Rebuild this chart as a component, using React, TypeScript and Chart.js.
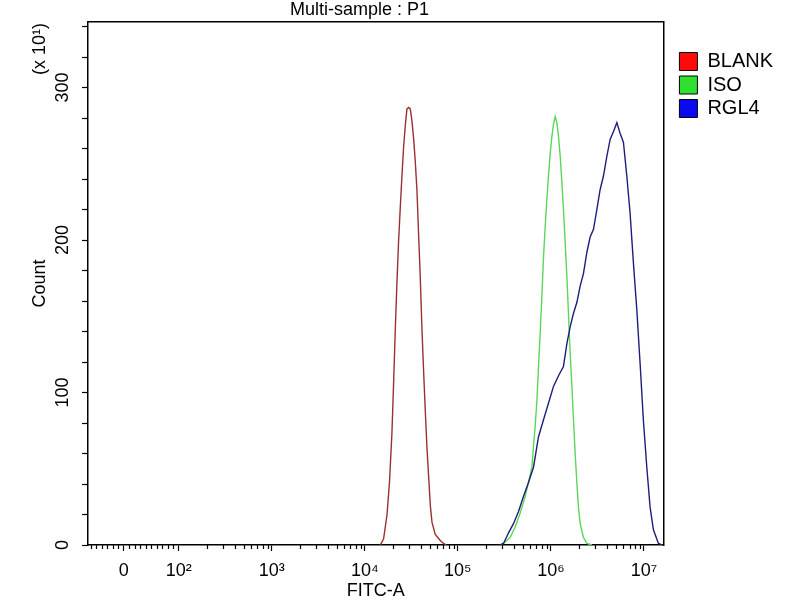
import React, { useEffect, useRef } from "react";
import { Chart, registerables } from "chart.js";

Chart.register(...registerables);

// ---------- text ----------
const TITLE = "Multi-sample : P1";
const X_TITLE = "FITC-A";
const Y_TITLE = "Count";
const Y_MULTIPLIER = "(x 10\u00B9)";
const SERIES_NAMES = ["BLANK", "ISO", "RGL4"];

// ---------- data (x = log10 FITC-A, y = count in units of 10) ----------
const BLANK_LOGX = [4.167, 4.202, 4.239, 4.266, 4.292, 4.309, 4.328, 4.346, 4.363, 4.381, 4.4, 4.417, 4.435, 4.453, 4.471, 4.489, 4.507, 4.524, 4.542, 4.561, 4.578, 4.596, 4.614, 4.632, 4.65, 4.668, 4.685, 4.704, 4.722, 4.757, 4.811, 4.846, 4.875];
const BLANK_COUNT = [0, 4, 20, 42, 74, 105, 142, 173, 199, 221, 243, 261, 275, 286, 287, 286, 278, 267, 252, 232, 204, 176, 142, 114, 88, 64, 46, 26, 15, 7, 3, 1, 0];

const ISO_LOGX = [5.455, 5.509, 5.563, 5.617, 5.67, 5.724, 5.759, 5.796, 5.813, 5.831, 5.85, 5.867, 5.885, 5.903, 5.921, 5.939, 5.957, 5.974, 5.993, 6.011, 6.028, 6.046, 6.064, 6.082, 6.1, 6.118, 6.135, 6.154, 6.172, 6.189, 6.207, 6.226, 6.243, 6.261, 6.279, 6.296, 6.315, 6.35, 6.387, 6.44];
const ISO_COUNT = [0, 2, 5, 12, 21, 32, 41, 51, 65, 78, 95, 117, 139, 163, 189, 209, 227, 242, 257, 268, 276, 281, 277, 268, 255, 238, 220, 198, 176, 152, 126, 104, 82, 60, 41, 25, 14, 5, 1, 0];

const RGL4_LOGX = [5.455, 5.491, 5.545, 5.598, 5.652, 5.706, 5.759, 5.813, 5.867, 5.92, 5.974, 6.028, 6.082, 6.135, 6.172, 6.207, 6.243, 6.279, 6.315, 6.35, 6.387, 6.422, 6.458, 6.494, 6.529, 6.565, 6.602, 6.637, 6.672, 6.709, 6.744, 6.78, 6.816, 6.851, 6.887, 6.924, 6.959, 6.994, 7.031, 7.066, 7.102, 7.156, 7.192];
const RGL4_COUNT = [0, 1, 8, 14, 22, 32, 41, 51, 71, 82, 93, 104, 111, 117, 132, 143, 152, 159, 170, 178, 192, 202, 207, 220, 233, 242, 255, 266, 271, 277, 270, 264, 242, 218, 185, 154, 119, 82, 51, 25, 10, 1, 0];

// ---------- axes ----------
const X_RANGE = [-65, 1.62e7]; // FITC-A values at the axis ends
const X_MAJOR_TICKS = [0, 1e2, 1e3, 1e4, 1e5, 1e6, 1e7];
const X_MAJOR_LABELS = ["0", "10\u00B2", "10\u00B3", "10\u2074", "10\u2075", "10\u2076", "10\u2077"];
const X_MINOR_LINEAR = [-60, -50, -40, -30, -20, -10, 10, 20, 30, 40, 50, 60, 70, 80, 90];
const X_MINOR_MULTIPLIERS = [2, 3, 4, 5, 6, 7, 8, 9];
const X_MINOR_DECADES = [1e2, 1e3, 1e4, 1e5, 1e6];
const Y_MAX = 343;
const Y_TICKS = [0, 20, 40, 60, 80, 100, 120, 140, 160, 180, 200, 220, 240, 260, 280, 300, 320, 340];
const Y_LABELED = [0, 100, 200, 300];

// ---------- styles ----------
const LINE_COLORS = ["#9c2f2f", "#5bd65b", "#1e1e7a"];
const LEGEND_FILLS = ["#ff0a0a", "#2fe02f", "#0a0af0"];
const FONT = '"Liberation Sans", Arial, sans-serif';
const ZERO_POS = 1.409; // position of 0 in decade units (biexponential display)

function toAxis(v: number): number {
  if (v <= 100) return ZERO_POS + (v / 100) * (2 - ZERO_POS);
  return Math.log10(v);
}

function series(xs: number[], ys: number[]) {
  return xs.map((x, i) => ({ x, y: ys[i] }));
}

const decorPlugin = {
  id: "decor",
  afterDraw(chart: any) {
    const ctx = chart.ctx;
    const xs = chart.scales.x;
    const base = xs.top;
    ctx.save();
    ctx.strokeStyle = "#000";
    ctx.lineWidth = 1.2;
    const minors: number[] = [...X_MINOR_LINEAR];
    X_MINOR_DECADES.forEach((d) => X_MINOR_MULTIPLIERS.forEach((m) => minors.push(d * m)));
    ctx.beginPath();
    minors.forEach((v) => {
      const px = Math.round(xs.getPixelForValue(toAxis(v))) + 0.5;
      ctx.moveTo(px, base);
      ctx.lineTo(px, base + 4);
    });
    ctx.stroke();

    ctx.fillStyle = "#000";
    ctx.font = `18px ${FONT}`;
    ctx.textAlign = "left";
    ctx.textBaseline = "alphabetic";
    ctx.fillText(TITLE, 290, 15);

    ctx.translate(40, 49);
    ctx.rotate(-Math.PI / 2);
    ctx.textAlign = "center";
    ctx.textBaseline = "middle";
    ctx.fillText(Y_MULTIPLIER, 0, 0);
    ctx.restore();
  },
};

export default function App() {
  const ref = useRef<HTMLCanvasElement | null>(null);

  useEffect(() => {
    if (!ref.current) return;
    Chart.defaults.font.family = FONT;
    Chart.defaults.color = "#000";
    const names = SERIES_NAMES;
    const chart = new Chart(ref.current, {
      type: "line",
      data: {
        datasets: [
          { label: names[0], data: series(BLANK_LOGX, BLANK_COUNT), borderColor: LINE_COLORS[0], order: 3 },
          { label: names[1], data: series(ISO_LOGX, ISO_COUNT), borderColor: LINE_COLORS[1], order: 2 },
          { label: names[2], data: series(RGL4_LOGX, RGL4_COUNT), borderColor: LINE_COLORS[2], order: 1 },
        ].map((d) => ({
          ...d,
          xAxisID: "x",
          yAxisID: "y",
          borderWidth: 1.4,
          pointRadius: 0,
          fill: false,
          tension: 0,
          backgroundColor: d.borderColor,
        })),
      },
      options: {
        animation: false,
        responsive: false,
        devicePixelRatio: 1,
        layout: { padding: { left: 0, top: 22, right: 17, bottom: 0 } },
        plugins: {
          tooltip: { enabled: false },
          title: { display: false },
          legend: {
            position: "right",
            align: "start",
            title: { display: true, text: " ", font: { size: 10, lineHeight: 1 }, padding: { top: 0, bottom: 16 } },
            labels: {
              boxWidth: 18,
              boxHeight: 18,
              padding: 3.5,
              color: "#000",
              font: { size: 20 },
              generateLabels: (c: any) =>
                c.data.datasets.map((ds: any, i: number) => ({
                  text: ds.label,
                  fillStyle: LEGEND_FILLS[i],
                  strokeStyle: "#000",
                  lineWidth: 1,
                  hidden: false,
                  datasetIndex: i,
                })),
            },
          },
        },
        scales: {
          x: {
            type: "linear",
            position: "bottom",
            min: toAxis(X_RANGE[0]),
            max: toAxis(X_RANGE[1]),
            afterBuildTicks: (s: any) => {
              s.ticks = X_MAJOR_TICKS.map((v) => ({ value: toAxis(v) }));
            },
            afterFit: (s: any) => {
              s.height = 55;
            },
            grid: { drawOnChartArea: false, drawTicks: true, tickLength: 6, color: "#000", tickWidth: 1.2 },
            border: { display: true, color: "#000", width: 1.5 },
            ticks: {
              autoSkip: false,
              maxRotation: 0,
              minRotation: 0,
              padding: 9.5,
              font: { size: 18 },
              color: "#000",
              callback: (_v: any, i: number) => X_MAJOR_LABELS[i],
            },
            title: { display: true, text: X_TITLE, font: { size: 18, lineHeight: 1 }, padding: { top: 0, bottom: 0 }, color: "#000" },
          },
          xTop: {
            type: "linear",
            position: "top",
            display: true,
            afterFit: (s: any) => {
              s.height = 0;
            },
            grid: { display: false, drawTicks: false },
            ticks: { display: false },
            border: { display: true, color: "#000", width: 1.5 },
          },
          y: {
            type: "linear",
            position: "left",
            min: 0,
            max: Y_MAX,
            afterBuildTicks: (s: any) => {
              s.ticks = Y_TICKS.map((v) => ({ value: v }));
            },
            afterFit: (s: any) => {
              s.width = 88;
            },
            grid: { drawOnChartArea: false, drawTicks: true, tickLength: 6, color: "#000", tickWidth: 1.2 },
            border: { display: true, color: "#000", width: 1.5 },
            ticks: {
              autoSkip: false,
              minRotation: 90,
              maxRotation: 90,
              crossAlign: "center",
              padding: 3.5,
              font: { size: 18 },
              color: "#000",
              callback: (v: any) => (Y_LABELED.includes(v) ? String(v) : ""),
            },
            title: { display: true, text: Y_TITLE, font: { size: 18, lineHeight: 1 }, padding: { top: 31, bottom: 0 }, color: "#000" },
          },
          yRight: {
            type: "linear",
            position: "right",
            display: true,
            afterFit: (s: any) => {
              s.width = 12.5;
            },
            grid: { display: false, drawTicks: false },
            ticks: { display: false },
            border: { display: true, color: "#000", width: 1.5 },
          },
        },
      } as any,
      plugins: [decorPlugin],
    });
    return () => chart.destroy();
  }, []);

  return (
    <div style={{ position: "absolute", left: 0, top: 0, width: 800, height: 600, background: "#fff" }}>
      <canvas ref={ref} width={800} height={600} style={{ width: 800, height: 600 }} />
    </div>
  );
}
